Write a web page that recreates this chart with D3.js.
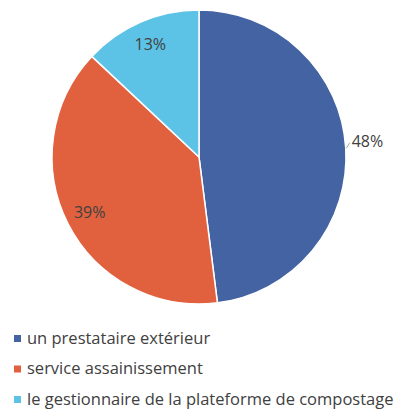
<!DOCTYPE html>
<html>
<head>
<meta charset="utf-8">
<script src="https://cdn.jsdelivr.net/npm/d3@7"></script>
<style>
  html, body { margin: 0; padding: 0; background: #fff; }
  svg text { font-family: "Open Sans", sans-serif; fill: #404040; }
</style>
</head>
<body>
<svg id="chart" width="393" height="410"></svg>
<script>
const categories = ["un prestataire extérieur", "service assainissement", "le gestionnaire de la plateforme de compostage"];
const values = [48, 39, 13];
const colors = ["#4363A2", "#E1613F", "#5CC3E6"];

const svg = d3.select("#chart");
const cx = 199, cy = 157, r = 147;

const pie = d3.pie().sort(null).value(d => d);
const arcs = pie(values);
const arc = d3.arc().innerRadius(0).outerRadius(r);

const g = svg.append("g").attr("transform", `translate(${cx},${cy})`);

g.selectAll("path")
  .data(arcs)
  .join("path")
  .attr("d", arc)
  .attr("fill", (d, i) => colors[i])
  .attr("stroke", "#fff")
  .attr("stroke-width", 1.5);

// percent labels: first one outside with a short leader, others inside
const labelArcIn = d3.arc().innerRadius(r * 0.835).outerRadius(r * 0.835);
arcs.forEach((d, i) => {
  const mid = (d.startAngle + d.endAngle) / 2;
  if (i === 0) {
    const p0 = [Math.sin(mid) * r, -Math.cos(mid) * r];
    const p1 = [p0[0] + 4, p0[1] - 5];
    g.append("polyline")
      .attr("points", [p0, [p0[0] + 1, p0[1]], p1].map(p => p.join(",")).join(" "))
      .attr("fill", "none")
      .attr("stroke", "#A6A6A6")
      .attr("stroke-width", 1);
    g.append("text")
      .attr("x", p1[0] + 2)
      .attr("y", p1[1] + 4)
      .attr("font-size", 16)
      .text(values[i] + "%");
  } else {
    const c = labelArcIn.centroid(d);
    g.append("text")
      .attr("x", c[0])
      .attr("y", c[1])
      .attr("text-anchor", "middle")
      .attr("dy", "0.35em")
      .attr("font-size", 16)
      .text(values[i] + "%");
  }
});

// legend
const legend = svg.append("g").attr("transform", "translate(14,338.5)");
const items = legend.selectAll("g")
  .data(categories)
  .join("g")
  .attr("transform", (d, i) => `translate(0,${i * 30.5})`);
items.append("rect")
  .attr("x", 0).attr("y", -3.5)
  .attr("width", 7).attr("height", 7)
  .attr("fill", (d, i) => colors[i]);
items.append("text")
  .attr("x", 13)
  .attr("y", 5)
  .attr("font-size", 16.5)
  .text(d => d);
</script>
</body>
</html>
